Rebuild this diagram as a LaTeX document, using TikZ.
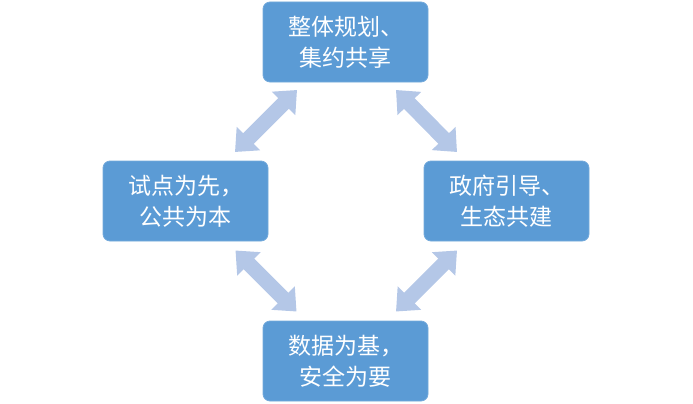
\documentclass[tikz,border=0pt]{standalone}
\usepackage{fontspec}
\newfontfamily\cjk{Noto Sans CJK SC}
\usetikzlibrary{arrows.meta}
\definecolor{boxblue}{HTML}{5B9BD5}
\definecolor{arrowblue}{HTML}{B4C7E7}
\begin{document}
\begin{tikzpicture}[x=1pt,y=-1pt,
  box/.style={draw=boxblue!85!white,line width=0.8pt,fill=boxblue,rounded corners=7pt,
    minimum width=165pt,minimum height=80pt,inner sep=0pt,text=white,align=center,
    font=\cjk\fontsize{23}{31}\selectfont},
  dblarrow/.style={arrowblue,line width=15pt,
    arrows={Triangle[width=32pt,length=19pt]-Triangle[width=32pt,length=19pt]}}]
\useasboundingbox (0,0) rectangle (693,404);
\node[box] (top) at (345.5,42) {整体规划、\\集约共享};
\node[box] (left) at (185.5,201) {试点为先，\\公共为本};
\node[box] (right) at (506.5,201) {政府引导、\\生态共建};
\node[box] (bottom) at (345.5,361) {数据为基，\\安全为要};
\coordinate (tlA) at (235,152);
\coordinate (tlB) at (297,90);
\coordinate (trA) at (396,90);
\coordinate (trB) at (457,152);
\coordinate (blA) at (235.5,250.5);
\coordinate (blB) at (296.5,311.5);
\coordinate (brA) at (457,250.5);
\coordinate (brB) at (396,311.5);
\draw[dblarrow] (tlA) -- (tlB);
\draw[dblarrow] (trA) -- (trB);
\draw[dblarrow] (blA) -- (blB);
\draw[dblarrow] (brA) -- (brB);
\end{tikzpicture}
\end{document}
